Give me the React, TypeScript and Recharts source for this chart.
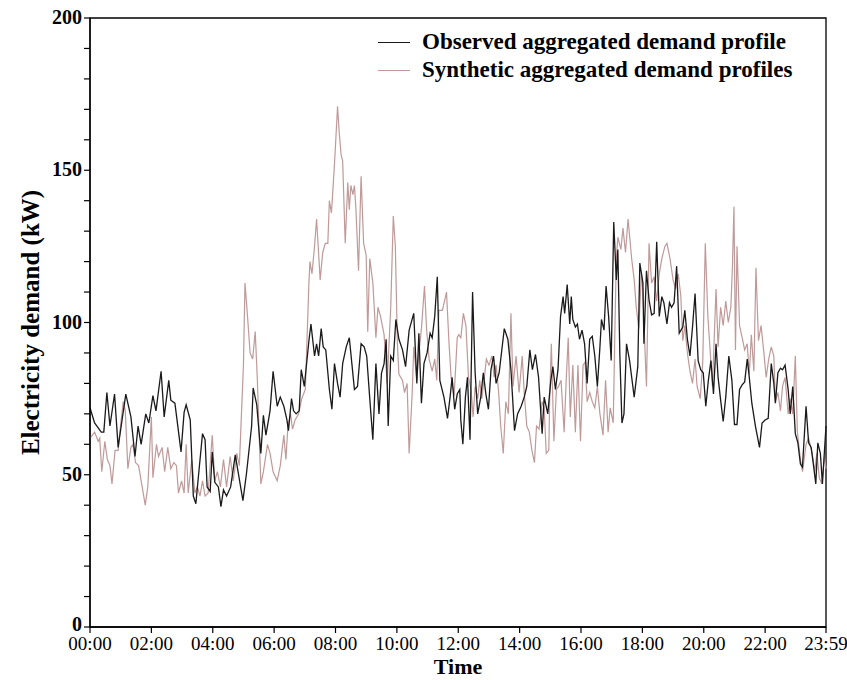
import { Legend, Line, LineChart, ReferenceArea, XAxis, YAxis } from "recharts";

const FONT = '"Liberation Serif", "Times New Roman", serif';
const OBS_COLOR = "#1a1a1a";
const SYN_COLOR = "#c09999";

// time in minutes after midnight
const X_TICKS = [0, 120, 240, 360, 480, 600, 720, 840, 960, 1080, 1200, 1320, 1439];
const Y_TICKS = [0, 10, 20, 30, 40, 50, 60, 70, 80, 90, 100, 110, 120, 130, 140, 150, 160, 170, 180, 190, 200];

const obsTime = [
  0, 9, 22, 27, 33, 39, 48, 55, 61, 70, 80, 88, 94, 100, 109, 115, 123, 129, 139, 145, 154, 158, 166, 178, 184, 188,
  196, 202, 207, 212, 220, 225, 229, 235, 239, 244, 251, 256, 261, 267, 275, 284, 290, 299, 306, 316, 319, 326, 334,
  339, 344, 352, 358, 366, 372, 379, 385, 388, 394, 398, 403, 409, 413, 419, 428, 432, 435, 439, 443, 447, 452, 456,
  461, 468, 473, 478, 484, 489, 494, 501, 507, 512, 517, 523, 530, 536, 541, 547, 553, 559, 565, 570, 575, 579, 583,
  588, 593, 598, 604, 611, 617, 624, 633, 639, 643, 648, 653, 659, 665, 669, 674, 679, 684, 692, 699, 704, 708, 713,
  718, 723, 725, 729, 734, 738, 743, 748, 753, 758, 764, 769, 774, 779, 784, 789, 794, 800, 810, 817, 823, 830, 836,
  843, 849, 854, 860, 865, 871, 877, 884, 888, 895, 901, 905, 910, 915, 920, 925, 928, 933, 938, 941, 944, 949, 953,
  957, 962, 967, 972, 977, 982, 987, 992, 997, 1000, 1005, 1009, 1014, 1019, 1024, 1029, 1032, 1036, 1040, 1044, 1049,
  1055, 1064, 1071, 1075, 1081, 1083, 1088, 1093, 1098, 1103, 1108, 1113, 1118, 1122, 1128, 1133, 1137, 1142, 1147,
  1152, 1159, 1163, 1168, 1173, 1178, 1183, 1189, 1194, 1199, 1204, 1209, 1214, 1219, 1224, 1228, 1233, 1238, 1243,
  1249, 1255, 1260, 1265, 1270, 1275, 1280, 1285, 1289, 1294, 1301, 1309, 1314, 1320, 1326, 1332, 1337, 1340, 1345,
  1350, 1354, 1359, 1365, 1369, 1374, 1379, 1384, 1389, 1393, 1400, 1405, 1410, 1415, 1419, 1423, 1428, 1432, 1439,
];
const obsKw = [
  72, 67, 64, 64, 77, 66, 76.5, 59, 66, 76.5, 69, 56, 66, 60, 70, 67, 76, 71, 84, 69, 81, 74.5, 73.5, 57.5, 70.5, 73,
  68, 43, 40.5, 49.5, 63.5, 61.5, 46, 44.5, 57.5, 47.5, 46, 39.5, 45, 43, 46, 56.5, 50.5, 41.5, 50.5, 66, 78.5, 73, 57,
  69.5, 63, 71, 84, 72.5, 75.5, 72.5, 68, 64.5, 75, 71, 70, 71, 84.5, 79, 94, 99.5, 95, 89, 93, 89, 98, 92,
  91, 78, 71.5, 86.5, 80, 75.5, 86.5, 92, 95, 86.5, 78, 79, 93, 92, 89, 75, 61.5, 86.5, 70, 83.5, 86.5, 94.5, 66,
  89, 87.5, 101, 94.5, 91, 85.5, 97.5, 103, 80, 96.5, 73.5, 86.5, 90, 96.5, 95, 102, 115, 81, 75.5, 68.5, 75.5, 82, 71.5,
  76.5, 78, 68, 60, 75.5, 82, 61.5, 110, 83.5, 70, 75.5, 83.5, 76.5, 71.5, 84.5, 89, 80, 83.5, 98, 94.5, 84.5, 64.5, 70,
  72.5, 75.5, 79, 91, 84.5, 89.5, 82, 63.5, 75.5, 70, 81, 85.5, 78, 84.5, 102, 108.5, 103, 112.5, 99.5, 108.5, 101, 98.5, 99.5,
  94.5, 97.5, 93, 80, 94.5, 95.5, 89, 79, 92, 101, 97.5, 112, 102, 87.5, 133, 114, 124, 89, 67, 70, 93,
  87.5, 75.5, 85.5, 119.5, 113, 93, 117, 107.5, 102.5, 103, 126.5, 102, 108.5, 106.5, 99.5, 106.5, 105, 106.5, 118.5,
  96.5, 98.5, 104, 94.5, 89, 98.5, 109.5, 87.5, 84.5, 83.5, 72.5, 81, 87.5, 76.5, 93, 82, 74.5, 67.5, 75.5,
  89, 81, 66.5, 66.5, 78, 79.5, 80.5, 88, 82, 73.5, 66, 59, 67, 68, 68.5, 86.5, 80, 73.5, 83.5,
  85, 84.5, 86, 78, 70, 79, 63.5, 60.5, 53.5, 52.5, 72.5, 60.5, 59, 52.5, 47, 60.5, 57, 47, 66,
];

const synTime = [
  0, 9, 16, 19, 23, 29, 34, 39, 43, 49, 55, 59, 65, 69, 74, 80, 84, 89, 95, 102, 108, 113, 120, 123, 130, 134, 141, 146,
  152, 158, 164, 169, 173, 179, 184, 188, 192, 199, 205, 210, 215, 220, 225, 231, 239, 244, 249, 255, 261, 267, 274,
  280, 287, 292, 300, 303, 308, 313, 318, 323, 327, 334, 339, 347, 352, 358, 366, 372, 379, 383, 387, 392, 396, 401,
  408, 414, 421, 428, 430, 434, 439, 443, 450, 455, 460, 465, 468, 472, 474, 479, 484, 487, 491, 494, 499, 504, 507,
  510, 514, 517, 520, 525, 530, 535, 540, 543, 547, 553, 559, 563, 568, 575, 581, 588, 593, 597, 601, 604, 611, 615,
  620, 624, 630, 633, 639, 643, 648, 654, 658, 663, 669, 674, 678, 682, 689, 697, 702, 706, 712, 718, 721, 725, 730,
  735, 740, 745, 749, 753, 758, 762, 766, 771, 775, 780, 786, 790, 794, 799, 803, 808, 813, 818, 823, 827, 833, 839,
  845, 849, 854, 859, 864, 869, 873, 878, 884, 888, 892, 897, 899, 902, 907, 912, 916, 921, 927, 931, 935, 939, 944,
  949, 954, 959, 964, 968, 972, 977, 982, 987, 992, 997, 1003, 1008, 1013, 1017, 1023, 1026, 1029, 1032, 1038, 1042,
  1047, 1052, 1059, 1064, 1068, 1073, 1078, 1081, 1086, 1088, 1093, 1098, 1103, 1108, 1113, 1118, 1124, 1128, 1134,
  1140, 1145, 1150, 1155, 1159, 1163, 1168, 1173, 1178, 1183, 1187, 1193, 1198, 1203, 1208, 1212, 1217, 1224, 1228,
  1233, 1238, 1243, 1248, 1253, 1256, 1259, 1262, 1265, 1270, 1275, 1280, 1285, 1289, 1293, 1298, 1302, 1307, 1312,
  1317, 1322, 1327, 1332, 1337, 1340, 1345, 1350, 1354, 1359, 1365, 1369, 1374, 1379, 1383, 1389, 1393, 1400, 1405,
  1412, 1417, 1421, 1426, 1431, 1436, 1439,
];
const synKw = [
  62, 64, 61, 62, 51, 61, 55, 53, 47, 58, 58, 65, 74, 71, 52, 59, 60, 54, 53, 46, 40, 46, 69, 49, 60, 56, 59, 51,
  59, 52, 54, 53, 44, 48, 44, 60, 44, 55, 44, 46, 43, 48, 43, 44, 63, 48, 51, 46, 55, 46, 56,
  48, 57, 53, 86, 113, 102, 90, 88, 97, 82, 47, 51, 60, 57, 51, 48, 53, 63, 55, 66, 70, 65, 68,
  70, 75, 78, 113, 120, 116, 125, 134, 114, 123, 126, 126, 140, 136, 141, 155, 171, 163, 155, 153, 126, 146, 137,
  145, 142, 145, 137, 117, 148, 126, 122, 97, 121, 113, 95, 105, 102, 96, 80, 105, 135, 125, 93, 83, 81, 77,
  80, 57, 77, 92, 81, 90, 98, 112, 98, 88, 84, 88, 81, 104, 104, 110, 93, 82, 76, 95, 96, 95, 103,
  99, 82, 78, 69, 79, 75, 81, 75, 82, 88, 86, 89, 82, 86, 77, 66, 57, 74, 70, 103, 79, 89, 77,
  89, 77, 66, 64, 58, 54, 66, 65, 74, 72, 57, 58, 77, 93, 61, 78, 79, 81, 64, 81, 95, 69, 86,
  64, 86, 61, 86, 87, 74, 77, 74, 72, 79, 70, 63, 81, 64, 72, 67, 95, 121, 128, 124, 131,
  123, 134, 121, 114, 105, 98, 116, 110, 87, 79, 126, 113, 115, 107, 116, 121, 125, 126, 121,
  114, 111, 116, 109, 94, 99, 90, 84, 80, 88, 79, 75, 87, 126, 102, 92, 79, 111, 92,
  105, 99, 107, 100, 105, 118, 138, 91, 125, 99, 95, 91, 93, 83, 96, 84, 118, 94, 99,
  91, 82, 88, 92, 89, 74, 77, 71, 79, 82, 70, 75, 70, 89, 64, 55, 51, 60, 62,
  57, 51, 57, 49, 47, 56, 52,
];

const obsData = obsTime.map((t, i) => ({ t, v: obsKw[i] }));
const synData = synTime.map((t, i) => ({ t, v: synKw[i] }));

const LEGEND_ITEMS = [
  { label: "Observed aggregated demand profile", color: OBS_COLOR },
  { label: "Synthetic aggregated demand profiles", color: SYN_COLOR },
];

function hhmm(m: number) {
  const h = Math.floor(m / 60);
  const mm = m % 60;
  return `${String(h).padStart(2, "0")}:${String(mm).padStart(2, "0")}`;
}

// eslint-disable-next-line @typescript-eslint/no-explicit-any
function YTick({ x, y, payload }: any) {
  if (payload.value % 50 !== 0) return <g />;
  return (
    <text
      x={x}
      y={y}
      dy={payload.value === 0 ? "0.2em" : "0.3em"}
      textAnchor="end"
      fontFamily={FONT}
      fontWeight="bold"
      fontSize={20}
      fill="#000"
    >
      {payload.value}
    </text>
  );
}

function LegendBox() {
  return (
    <div style={{ fontFamily: FONT, fontWeight: "bold", fontSize: 23, color: "#000", whiteSpace: "nowrap" }}>
      {LEGEND_ITEMS.map((item) => (
        <div key={item.label} style={{ display: "flex", alignItems: "center", height: 28 }}>
          <span style={{ width: 32, borderTop: `1.5px solid ${item.color}`, marginRight: 12 }} />
          <span>{item.label}</span>
        </div>
      ))}
    </div>
  );
}

export default function App() {
  return (
    <div style={{ position: "absolute", left: 0, top: 0, width: 847, height: 680, background: "#fff" }}>
      <LineChart width={847} height={680} margin={{ top: 18, right: 21, bottom: 0, left: 0 }}>
        <XAxis
          dataKey="t"
          type="number"
          domain={[0, 1439]}
          ticks={X_TICKS}
          interval={0}
          tickFormatter={hhmm}
          height={53}
          tickSize={6}
          tickMargin={4}
          axisLine={{ stroke: "#000", strokeWidth: 1.3 }}
          tickLine={{ stroke: "#000", strokeWidth: 1.2 }}
          tick={{ fontFamily: FONT, fontSize: 19, fill: "#000" }}
          label={{
            value: "Time",
            position: "insideBottom",
            offset: 6,
            style: { fontFamily: FONT, fontWeight: "bold", fontSize: 22, fill: "#000" },
          }}
        />
        <YAxis
          type="number"
          domain={[0, 200]}
          ticks={Y_TICKS}
          interval={0}
          width={90}
          tickSize={6}
          tickMargin={2}
          axisLine={{ stroke: "#000", strokeWidth: 1.3 }}
          tickLine={{ stroke: "#000", strokeWidth: 1.2 }}
          tick={<YTick />}
          label={{
            value: "Electricity demand (kW)",
            angle: -90,
            position: "center",
            dx: -15,
            style: { fontFamily: FONT, fontWeight: "bold", fontSize: 25, fill: "#000", textAnchor: "middle" },
          }}
        />
        <ReferenceArea x1={0} x2={1439} y1={0} y2={200} fill="none" stroke="#000" strokeWidth={1.3} />
        <Line
          data={synData}
          dataKey="v"
          type="linear"
          stroke={SYN_COLOR}
          strokeWidth={1.2}
          dot={false}
          isAnimationActive={false}
        />
        <Line
          data={obsData}
          dataKey="v"
          type="linear"
          stroke={OBS_COLOR}
          strokeWidth={1.3}
          dot={false}
          isAnimationActive={false}
        />
        <Legend
          layout="horizontal"
          verticalAlign="middle"
          align="center"
          content={<LegendBox />}
          wrapperStyle={{ top: 28, left: 378, width: "auto" }}
        />
      </LineChart>
    </div>
  );
}
